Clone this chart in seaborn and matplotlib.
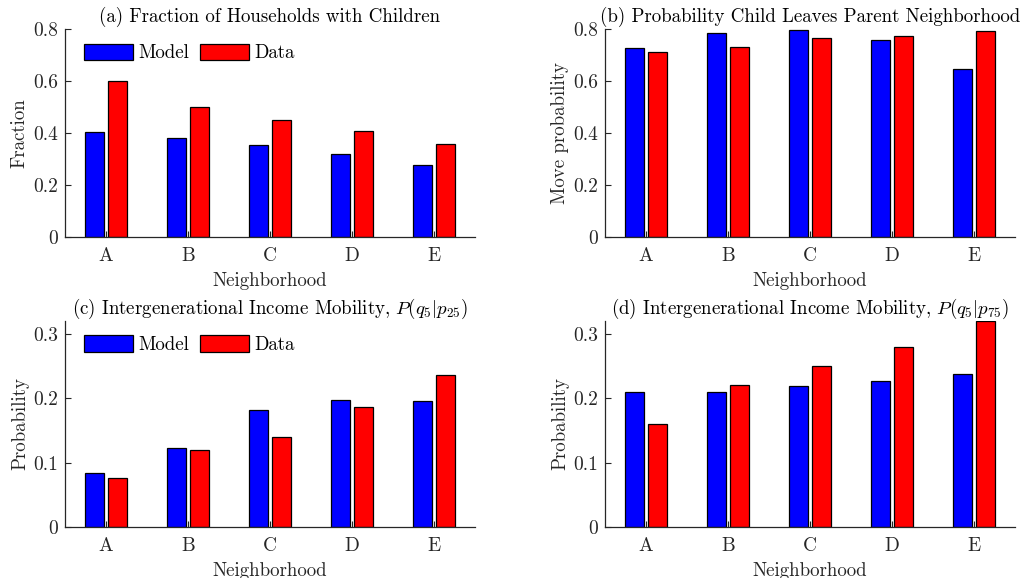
import matplotlib
matplotlib.use("Agg")
import matplotlib.pyplot as plt
import seaborn as sns
import pandas as pd

neighborhoods = ["A", "B", "C", "D", "E"]
sources = ["Model", "Data"]

frac_model = [0.402, 0.379, 0.355, 0.318, 0.276]
frac_data = [0.600, 0.500, 0.450, 0.409, 0.359]

move_model = [0.728, 0.785, 0.795, 0.756, 0.646]
move_data = [0.710, 0.729, 0.765, 0.772, 0.792]

mob25_model = [0.0835, 0.122, 0.181, 0.197, 0.196]
mob25_data = [0.0758, 0.120, 0.140, 0.186, 0.236]

mob75_model = [0.209, 0.210, 0.219, 0.227, 0.238]
mob75_data = [0.160, 0.220, 0.250, 0.280, 0.320]

titles = [
    "(a) Fraction of Households with Children",
    "(b) Probability Child Leaves Parent Neighborhood",
    r"(c) Intergenerational Income Mobility, $P(q_5|p_{25})$",
    r"(d) Intergenerational Income Mobility, $P(q_5|p_{75})$",
]
ylabels = ["Fraction", "Move probability", "Probability", "Probability"]
yticks = [[0, 0.2, 0.4, 0.6, 0.8], [0, 0.2, 0.4, 0.6, 0.8],
          [0, 0.1, 0.2, 0.3], [0, 0.1, 0.2, 0.3]]
ytick_labels = [["0", "0.2", "0.4", "0.6", "0.8"], ["0", "0.2", "0.4", "0.6", "0.8"],
                ["0", "0.1", "0.2", "0.3"], ["0", "0.1", "0.2", "0.3"]]
ylims = [(0, 0.8), (0, 0.8), (0, 0.32), (0, 0.32)]
show_legend = [True, False, True, False]

series = [(frac_model, frac_data), (move_model, move_data),
          (mob25_model, mob25_data), (mob75_model, mob75_data)]

sns.set_style("ticks")
plt.rcParams["font.family"] = ["cmr10", "DejaVu Serif"]
plt.rcParams["mathtext.fontset"] = "cm"
plt.rcParams["axes.formatter.use_mathtext"] = True

axcol = (0.15, 0.15, 0.15)
fs = 13.6

fig = plt.figure(figsize=(10.24, 5.78), dpi=100)
W, H = 1024, 578
boxes = [(65, 29, 410, 208), (605, 29, 410, 208),
         (65, 321, 410, 206), (605, 321, 410, 206)]

palette = {"Model": (0, 0, 1), "Data": (1, 0, 0)}

for i, (l, t, w, h) in enumerate(boxes):
    ax = fig.add_axes([l / W, (H - t - h) / H, w / W, h / H])
    m, d = series[i]
    df = pd.DataFrame({
        "Neighborhood": neighborhoods * 2,
        "Source": ["Model"] * 5 + ["Data"] * 5,
        "value": list(m) + list(d),
    })
    sns.barplot(data=df, x="Neighborhood", y="value", hue="Source",
                hue_order=sources, order=neighborhoods, palette=palette,
                saturation=1, width=0.56, gap=0.164, edgecolor="black",
                linewidth=0.9, ax=ax, legend=show_legend[i])
    ax.set_xlim(-0.5, 4.5)
    ax.set_ylim(*ylims[i])
    ax.set_yticks(yticks[i])
    ax.set_yticklabels(ytick_labels[i])
    ax.set_title(titles[i], fontsize=fs, color="black", pad=5)
    ax.set_ylabel(ylabels[i], fontsize=fs, color=axcol, labelpad=3)
    ax.set_xlabel("Neighborhood", fontsize=fs, color=axcol, labelpad=5)
    for s in ["top", "right"]:
        ax.spines[s].set_visible(False)
    for s in ["left", "bottom"]:
        ax.spines[s].set_color(axcol)
        ax.spines[s].set_linewidth(0.9)
    ax.tick_params(direction="in", length=4, color=axcol, labelcolor=axcol,
                   labelsize=fs + 0.4, width=0.8)
    ax.tick_params(axis="x", pad=7)
    ax.tick_params(axis="y", pad=5)
    ax.set_axisbelow(False)
    if show_legend[i]:
        leg = ax.legend(loc="upper left", bbox_to_anchor=(0.046, 0.93),
                        ncol=2, frameon=False, fontsize=fs,
                        handlelength=2.6, handleheight=1.0,
                        handletextpad=0.3, columnspacing=0.55,
                        borderaxespad=0, borderpad=0)
        for txt in leg.get_texts():
            txt.set_color("black")

fig.savefig("out.png", dpi=100)
